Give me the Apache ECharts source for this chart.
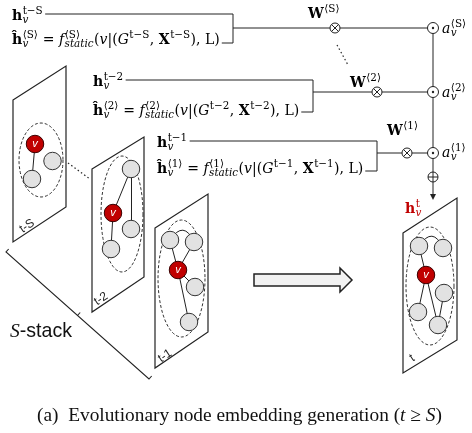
<!DOCTYPE html>
<html><head><meta charset="utf-8">
<script src="https://cdn.jsdelivr.net/npm/echarts@6/dist/echarts.min.js"></script>
<style>html,body{margin:0;padding:0;background:#fff}#c{width:472px;height:433px}</style>
</head><body><div id="c"></div>
<script>
// ---------- data ----------
const panelLabels = ['t-S', 't-2', 't-1', 't'];
const panelShapes = [
  [[13,100],[66,66],[66,207],[13,242]],
  [[92,169],[144,137],[144,277],[92,312]],
  [[155,228],[208,194],[208,332],[155,368]],
  [[403,233],[457,198],[457,340],[403,373]]
];
const panelEllipses = [[41,160,22,37],[122,214,21,58],[181.5,278.5,23.5,58.5],[430,286,24,59]];
const panelLabelPos = [[27,226],[101,299],[165,356],[412,358]];
// nodes: x, y, isTarget(v)
const nodes = [
  [35,144,1],[52.5,161,0],[32,179,0],
  [131,169,0],[113,213,1],[131,229,0],[111,249,0],
  [170,240,0],[194,242,0],[178,270,1],[195,287,0],[189,322,0],
  [419,246,0],[443,248,0],[426,275,1],[444,293,0],[418,312,0],[438,325,0]
];
// links: source, target, curveness
const links = [
  [0,2,0],
  [3,4,0],[3,5,0],[4,6,0],
  [7,8,0.9],[7,9,0],[9,8,0],[9,10,0],[9,11,0],
  [12,13,0.9],[12,14,0],[14,16,0],[14,17,0],[15,17,0]
];
const rowKeys = ['S','2','1'];
const rowTimes = ['t\u2212S','t\u22122','t\u22121'];
const rowX = [12,93,157];
const hBase = [20,86,147];
const hatBase = [44,115,173];
const bracketX = [233,313,377];
const bracketTop = [14,80,141];
const bracketBot = [43,112,171];
const opY = [28,92,153];
const otimesX = [335,377,407];
const odotX = 433;
const wX = [308,350,387], wBase = [18,87,135];
const aX = 442, aBase = [33,97,157];
const captionText = '(a)  Evolutionary node embedding generation (';

// ---------- text layout helpers ----------
const mathFam = '"DejaVu Serif"';
const SCRIPT = 0.74;
const mctx = document.createElement('canvas').getContext('2d');
function fnt(st, size, fam){ return (st.indexOf('i')>=0?'italic ':'') + (st.indexOf('b')>=0?'bold ':'') + size.toFixed(2)+'px '+fam; }
function meas(t, st, size, fam){
  const f = fnt(st,size,fam); mctx.font = f;
  mctx.textBaseline = 'alphabetic'; const m2 = mctx.measureText(t);
  mctx.textBaseline = 'middle'; const m1 = mctx.measureText(t);
  return {w:m2.width, off:(m2.fontBoundingBoxAscent - m1.fontBoundingBoxAscent), font:f};
}
function txt(t,x,y,font,fill){
  return {type:'text', x:x, y:y, z:20, silent:true,
    style:{text:t, font:font, fill:fill, align:'left', verticalAlign:'middle', textAlign:'left', textVerticalAlign:'middle'}};
}
function layout(expr, x0, base, size, fam, color, out){
  let x = x0; const ss = size*SCRIPT;
  for (const e of expr){
    if (Array.isArray(e)){
      const fm = e[2] || fam; const m = meas(e[0], e[1], size, fm);
      if (out) out.push(txt(e[0], x, base - m.off, m.font, color));
      x += m.w;
    } else {
      let w1 = 0, w2 = 0;
      if (e.sup){ let xx = x + 0.5; for (const p of e.sup){ const m = meas(p[0],p[1],ss,fam); if (out) out.push(txt(p[0], xx, base - size*0.45 - m.off, m.font, color)); xx += m.w; } w1 = xx - x; }
      if (e.sub){ let xx = x + 0.3; for (const p of e.sub){ const m = meas(p[0],p[1],ss,fam); if (out) out.push(txt(p[0], xx, base + size*0.24 - m.off, m.font, color)); xx += m.w; } w2 = xx - x; }
      x += Math.max(w1, w2) + 0.5;
    }
  }
  return x;
}
function hExpr(sup){ return [['h','b'], {sup:[[sup,'r']], sub:[['v','i']]}]; }
function hatExpr(k, t){
  return [['\u0125','b'], {sup:[['\u27E8'+k+'\u27E9','r']], sub:[['v','i']]}, [' = ','r'], ['f','i'],
    {sup:[['\u27E8'+k+'\u27E9','r']], sub:[['static','i']]}, ['(','r'], ['v','i'], ['|','r'], ['(','r'], ['G','i'],
    {sup:[[t,'r']]}, [', ','r'], ['X','b'], {sup:[[t,'r']]}, ['), L)','r']];
}
const mSize = Math.max(11, Math.min(17, 14 * 208 / (layout(hatExpr('S', rowTimes[0]), 0, 0, 14, mathFam, '#000', null))));

const G = [];
function poly(pts, o){ o = o||{}; return {type:'polyline', z:o.z||5, silent:true, shape:{points:pts}, style:{stroke:o.c||'#222', lineWidth:o.w||1, fill:null, lineDash:o.dash||null}}; }
function opCircle(cx, cy, kind){
  const r = kind==='dot' ? 5.5 : 5;
  G.push({type:'circle', z:12, silent:true, shape:{cx:cx, cy:cy, r:r}, style:{fill:'#fff', stroke:'#222', lineWidth:1}});
  if (kind==='times'){ const d = r*0.7; G.push(poly([[cx-d,cy-d],[cx+d,cy+d]],{z:13})); G.push(poly([[cx-d,cy+d],[cx+d,cy-d]],{z:13})); }
  if (kind==='plus'){ G.push(poly([[cx-r,cy],[cx+r,cy]],{z:13})); G.push(poly([[cx,cy-r],[cx,cy+r]],{z:13})); }
  if (kind==='dot'){ G.push({type:'circle', z:13, silent:true, shape:{cx:cx, cy:cy, r:1.2}, style:{fill:'#222'}}); }
}

// rows
for (let i = 0; i < 3; i++){
  const e1 = layout(hExpr(rowTimes[i]), rowX[i], hBase[i], mSize, mathFam, '#000', G);
  const e2 = layout(hatExpr(rowKeys[i], rowTimes[i]), rowX[i], hatBase[i], mSize, mathFam, '#000', G);
  G.push(poly([[e1+2, bracketTop[i]],[bracketX[i], bracketTop[i]],[bracketX[i], bracketBot[i]],[e2+2, bracketBot[i]]]));
  G.push(poly([[bracketX[i], opY[i]],[odotX, opY[i]]]));
  opCircle(otimesX[i], opY[i], 'times');
  opCircle(odotX, opY[i], 'dot');
  layout([['W','b'], {sup:[['\u27E8'+rowKeys[i]+'\u27E9','r']]}], wX[i], wBase[i], mSize, mathFam, '#000', G);
  layout([['a','i'], {sup:[['\u27E8'+rowKeys[i]+'\u27E9','r']], sub:[['v','i']]}], aX, aBase[i], mSize, mathFam, '#000', G);
}
G.push(poly([[odotX, opY[0]],[odotX, 177]]));
opCircle(odotX, 177, 'plus');
G.push(poly([[odotX, 182],[odotX, 195]]));
G.push({type:'polygon', z:5, silent:true, shape:{points:[[odotX-3,194],[odotX+3,194],[odotX,200]]}, style:{fill:'#222'}});
// dotted
G.push(poly([[337,45],[348,65]], {dash:[1.5,2.5], w:1.2}));
G.push(poly([[68,163],[90,179]], {dash:[1.5,2.5], w:1.2}));
// big arrow
G.push({type:'polygon', z:5, silent:true, shape:{points:[[254,274],[340,274],[340,268],[352,280],[340,292],[340,286],[254,286]]}, style:{fill:'#f2f2f2', stroke:'#222', lineWidth:1.5}});
// S-stack bracket
(function(){
  const a = [6,252], b = [149,379];
  const dx = b[0]-a[0], dy = b[1]-a[1], L = Math.hypot(dx,dy);
  const px = dy/L*4, py = -dx/L*4;
  G.push(poly([[a[0]+px,a[1]+py], a, b, [b[0]+px,b[1]+py]], {w:1.1}));
  const m = [a[0]+dx*0.5, a[1]+dy*0.5];
  G.push(poly([m, [m[0]+px, m[1]+py]], {w:1.1}));
})();
(function(){
  const sz = 18;
  const w = layout([['S','i','"Liberation Serif"'], ['-stack','r','"Liberation Sans"']], 0, 0, sz, mathFam, '#000', null);
  const s2 = sz * 62 / w;
  layout([['S','i','"Liberation Serif"'], ['-stack','r','"Liberation Sans"']], 10, 337, s2, mathFam, '#111', G);
})();
// h_v^t
layout(hExpr('t'), 405, 213, mSize, mathFam, '#c00000', G);
// caption
(function(){
  const fam = '"Liberation Serif"';
  const cap = [[captionText,'r'], ['t','i'], [' \u2265 ','r'], ['S','i'], [')','r']];
  const w = layout(cap, 0, 0, 15, fam, '#000', null);
  const sz = 15 * 405 / w;
  layout(cap, 37, 421, sz, fam, '#111', G);
})();

// ---------- chart ----------
const chart = echarts.init(document.getElementById('c'), null, {renderer:'canvas'});
chart.setOption({
  animation: false,
  backgroundColor: '#fff',
  grid: {left:0, top:0, right:0, bottom:0},
  xAxis: {type:'value', min:0, max:472, show:false},
  yAxis: {type:'value', min:0, max:433, inverse:true, show:false},
  series: [
    {
      type:'custom', coordinateSystem:'cartesian2d', z:1, silent:true, clip:false,
      data: panelLabels.map((l,i) => [panelEllipses[i][0], panelEllipses[i][1], i]),
      renderItem: function(params, api){
        const i = api.value(2);
        const pts = panelShapes[i].map(p => api.coord(p));
        const e = panelEllipses[i];
        const ep = [];
        for (let k = 0; k < 72; k++){ const t = k/72*Math.PI*2; ep.push(api.coord([e[0]+e[2]*Math.cos(t), e[1]+e[3]*Math.sin(t)])); }
        const lp = api.coord(panelLabelPos[i]);
        return {type:'group', children:[
          {type:'polygon', shape:{points:pts}, style:{fill:'#fff', stroke:'#222', lineWidth:1.2}},
          {type:'polygon', shape:{points:ep}, style:{fill:null, stroke:'#333', lineWidth:1, lineDash:[3,2]}},
          {type:'text', x:lp[0], y:lp[1], rotation:0.58, style:{text:panelLabels[i], font:'12px "Liberation Sans"', fill:'#222', align:'center', verticalAlign:'middle', textAlign:'center', textVerticalAlign:'middle'}}
        ]};
      }
    },
    {
      type:'graph', coordinateSystem:'cartesian2d', z:3, silent:true, animation:false,
      symbol:'circle', symbolSize:17.5,
      data: nodes.map(n => ({
        value:[n[0], n[1]],
        itemStyle: n[2] ? {color:'#c00000', borderColor:'#3a0000', borderWidth:1} : {color:'#e2e2e2', borderColor:'#333', borderWidth:1},
        label: n[2] ? {show:true, formatter:'v', position:'inside', color:'#fff', fontStyle:'italic', fontFamily:'Liberation Sans', fontSize:11} : {show:false}
      })),
      links: links.map(l => ({source:l[0], target:l[1], lineStyle:{curveness:l[2]}})),
      lineStyle: {color:'#222', width:1, opacity:1}
    }
  ],
  graphic: G
});
</script>
</body></html>
